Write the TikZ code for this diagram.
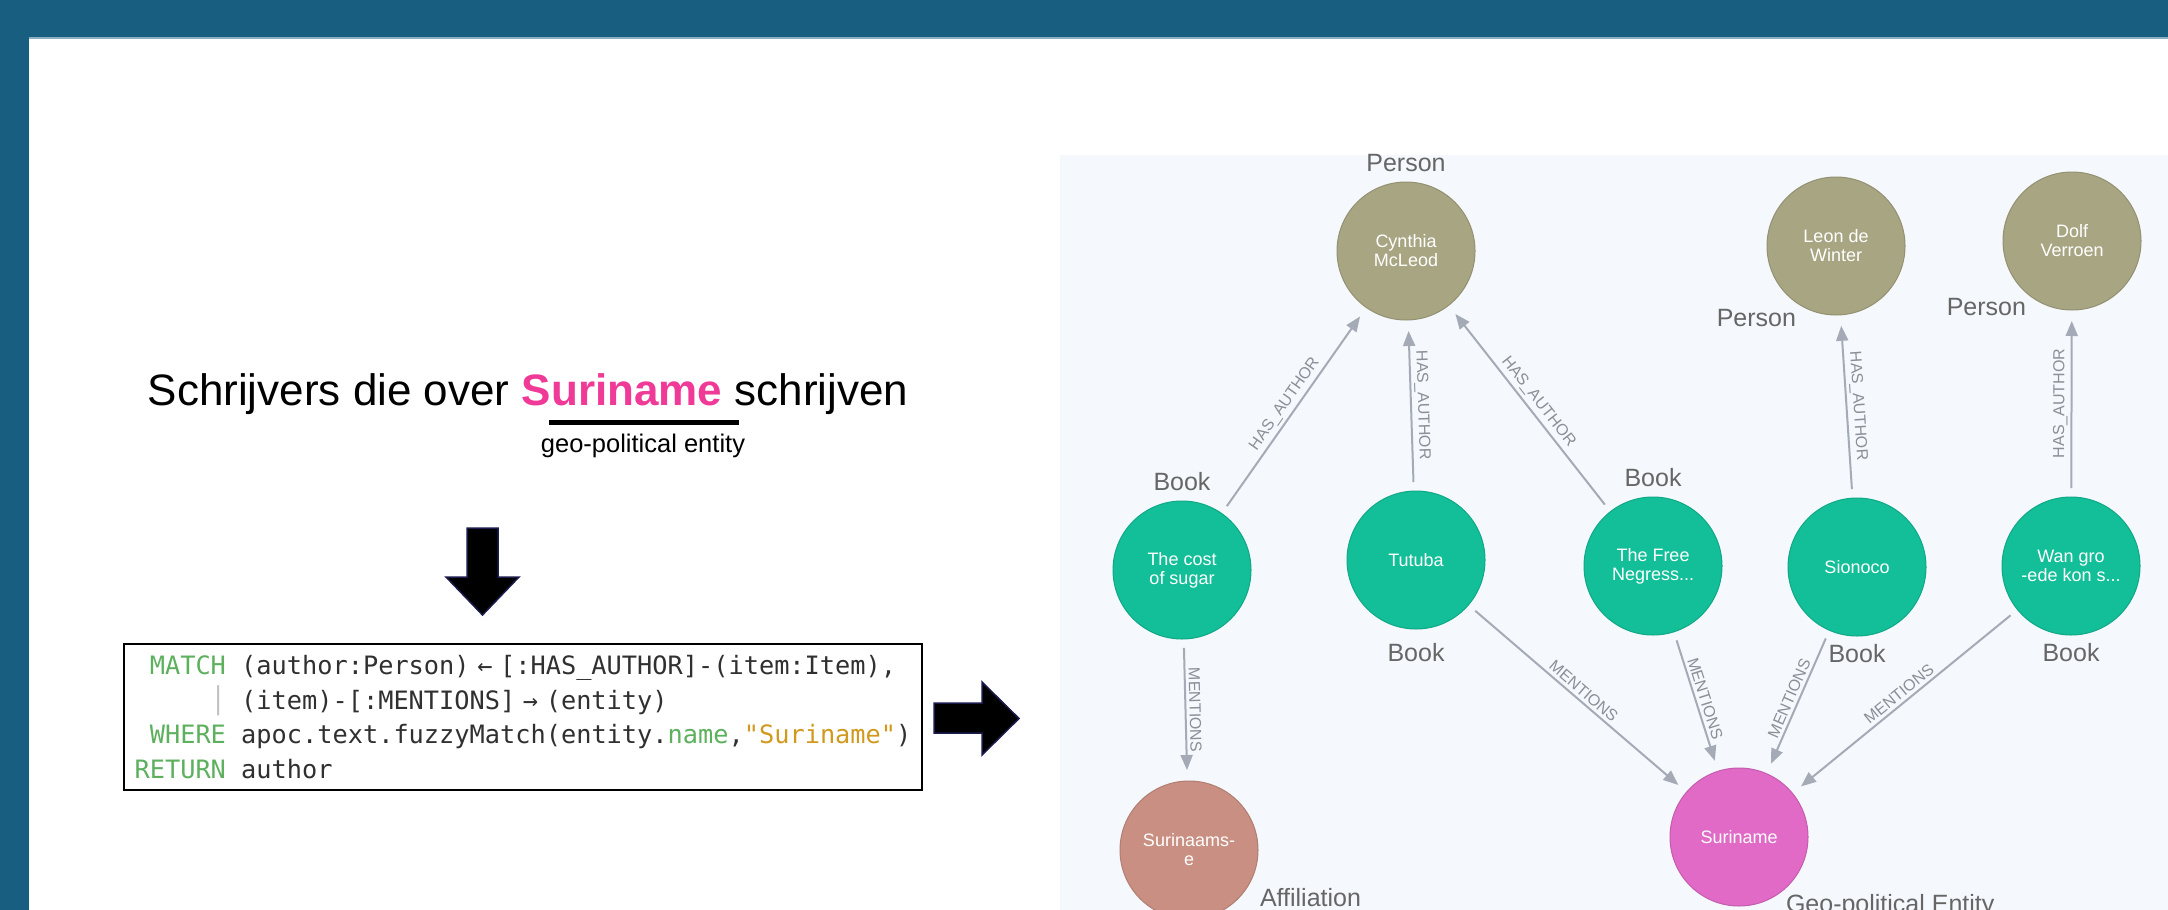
\documentclass[tikz,border=0pt]{standalone}
\usepackage{fontspec}
\setmainfont{Liberation Sans}
\setmonofont{DejaVu Sans Mono}
\usepackage{xcolor}
\usetikzlibrary{arrows.meta,positioning}

\definecolor{slideblue}{HTML}{175E81}
\definecolor{bandline}{HTML}{8EAFC3}
\definecolor{panel}{HTML}{F5F8FC}
\definecolor{personc}{HTML}{A8A582}
\definecolor{bookc}{HTML}{12BF98}
\definecolor{affilc}{HTML}{C88F82}
\definecolor{gpec}{HTML}{E06AC6}
\definecolor{edgec}{HTML}{A5ABB6}
\definecolor{edgetext}{HTML}{8A8F98}
\definecolor{captext}{HTML}{666666}
\definecolor{codetext}{HTML}{303030}
\definecolor{kwgreen}{HTML}{5DB05D}
\definecolor{strgold}{HTML}{D19A1E}
\definecolor{hotpink}{HTML}{F03A97}
\definecolor{arrowedge}{HTML}{1B1B4D}

% ligature arrows take two cells in the query font
\newcommand{\ligarrow}[1]{\makebox[1.204em]{#1}}

\begin{document}
\begin{tikzpicture}[x=1pt, y=-1pt,
  ball/.style={circle, minimum size=138pt, inner sep=0pt, outer sep=0pt, line width=1pt, align=center, text=white, font=\fontsize{18}{19}\selectfont},
  person/.style={ball, fill=personc, draw=personc!88!black},
  book/.style={ball, fill=bookc, draw=bookc!88!black},
  affil/.style={ball, fill=affilc, draw=affilc!88!black},
  gpe/.style={ball, fill=gpec, draw=gpec!88!black},
  kind/.style={inner sep=0pt, text=captext, font=\fontsize{25}{28}\selectfont},
  rel/.style={draw=edgec, line width=2pt, -{Triangle[length=15pt,width=12pt]}, shorten <=9pt, shorten >=11pt},
  reltxt/.style={sloped, above, inner sep=3pt, text=edgetext, font=\fontsize{16}{16}\selectfont},
  codebox/.style={draw=black, line width=2.5pt, fill=white, minimum width=798pt, minimum height=146pt, inner sep=0pt, align=left, text=codetext, font=\ttfamily\fontsize{25.3}{34.6}\selectfont},
  bigarrow/.style={fill=black, draw=arrowedge, line width=1.5pt, line join=miter}
]

% slide frame and graph panel
\useasboundingbox (0,0) rectangle (2168,910);
\fill[white] (0,0) rectangle (2168,910);
\fill[slideblue] (0,0) rectangle (2168,37);
\fill[slideblue] (0,0) rectangle (29,910);
\draw[bandline, line width=1.5pt] (29,38) -- (2168,38);
\fill[panel] (1060,155) rectangle (2168,910);

% question and query
\node[anchor=base, font=\fontsize{44}{50}\selectfont] (question) at (528,405) {Schrijvers die over \textcolor{hotpink}{\bfseries Suriname} schrijven};
\draw[line width=5pt] (549,422) -- (739,422);
\node[font=\fontsize{25.5}{28}\selectfont] (geonote) at (643,446) {geo-political entity};
\filldraw[bigarrow] (467,528) -- (498,528) -- (498,577) -- (519,577) -- (482.5,615) -- (446,577) -- (467,577) -- cycle;
\node[codebox] (query) at (523,717) {%
\hphantom{R}\textcolor{kwgreen}{MATCH} (author:Person)\ligarrow{←}[:HAS\_AUTHOR]-(item:Item),\\
\hphantom{RETUR}\textcolor{lightgray}{│} (item)-[:MENTIONS]\ligarrow{→}(entity)\\
\hphantom{R}\textcolor{kwgreen}{WHERE} apoc.text.fuzzyMatch(entity.\textcolor{kwgreen}{name},\textcolor{strgold}{"Suriname"})\\
\textcolor{kwgreen}{RETURN} author};
\filldraw[bigarrow] (934,703) -- (982,703) -- (982,682) -- (1019,718.5) -- (982,755) -- (982,733) -- (934,733) -- cycle;

% graph nodes
\node[person] (cyn) at (1406,251) {Cynthia\\McLeod};
\node[person] (leon) at (1836,246) {Leon de\\Winter};
\node[person] (dolf) at (2072,241) {Dolf\\Verroen};
\node[book] (cost) at (1182,570) {The cost\\of sugar};
\node[book] (tutuba) at (1416,560) {Tutuba};
\node[book] (negress) at (1653,566) {The Free\\Negress...};
\node[book] (sionoco) at (1857,567) {Sionoco};
\node[book] (wangro) at (2071,566) {Wan gro\\-ede kon s...};
\node[affil] (surinaams) at (1189,850) {Surinaams-\\e};
\node[gpe] (suriname) at (1739,837) {Suriname};

% captions
\node[kind, above=10pt of cyn] {Person};
\node[kind, below left=14pt and -9pt of leon] {Person};
\node[kind, below left=8pt and -3pt of dolf] {Person};
\node[kind, above=10pt of cost] {Book};
\node[kind, below=14pt of tutuba] {Book};
\node[kind, above=10pt of negress] {Book};
\node[kind, below=8pt of sionoco] {Book};
\node[kind, below=8pt of wangro] {Book};
\node[kind, below right=-11pt and 22pt of surinaams] {Affiliation};
\node[kind, below right=8pt and -2pt of suriname] {Geo-political Entity};

% relationships
\draw[rel] (cost) -- node[reltxt] {HAS\_AUTHOR} (cyn);
\draw[rel] (tutuba) -- node[reltxt] {HAS\_AUTHOR} (cyn);
\draw[rel] (negress) -- node[reltxt] {HAS\_AUTHOR} (cyn);
\draw[rel] (sionoco) -- node[reltxt] {HAS\_AUTHOR} (leon);
\draw[rel] (wangro) -- node[reltxt] {HAS\_AUTHOR} (dolf);
\draw[rel] (cost) -- node[reltxt] {MENTIONS} (surinaams);
\draw[rel] (tutuba) -- node[reltxt] {MENTIONS} (suriname);
\draw[rel] (negress) -- node[reltxt] {MENTIONS} (suriname);
\draw[rel] (sionoco) -- node[reltxt] {MENTIONS} (suriname);
\draw[rel] (wangro) -- node[reltxt] {MENTIONS} (suriname);
\end{tikzpicture}
\end{document}
